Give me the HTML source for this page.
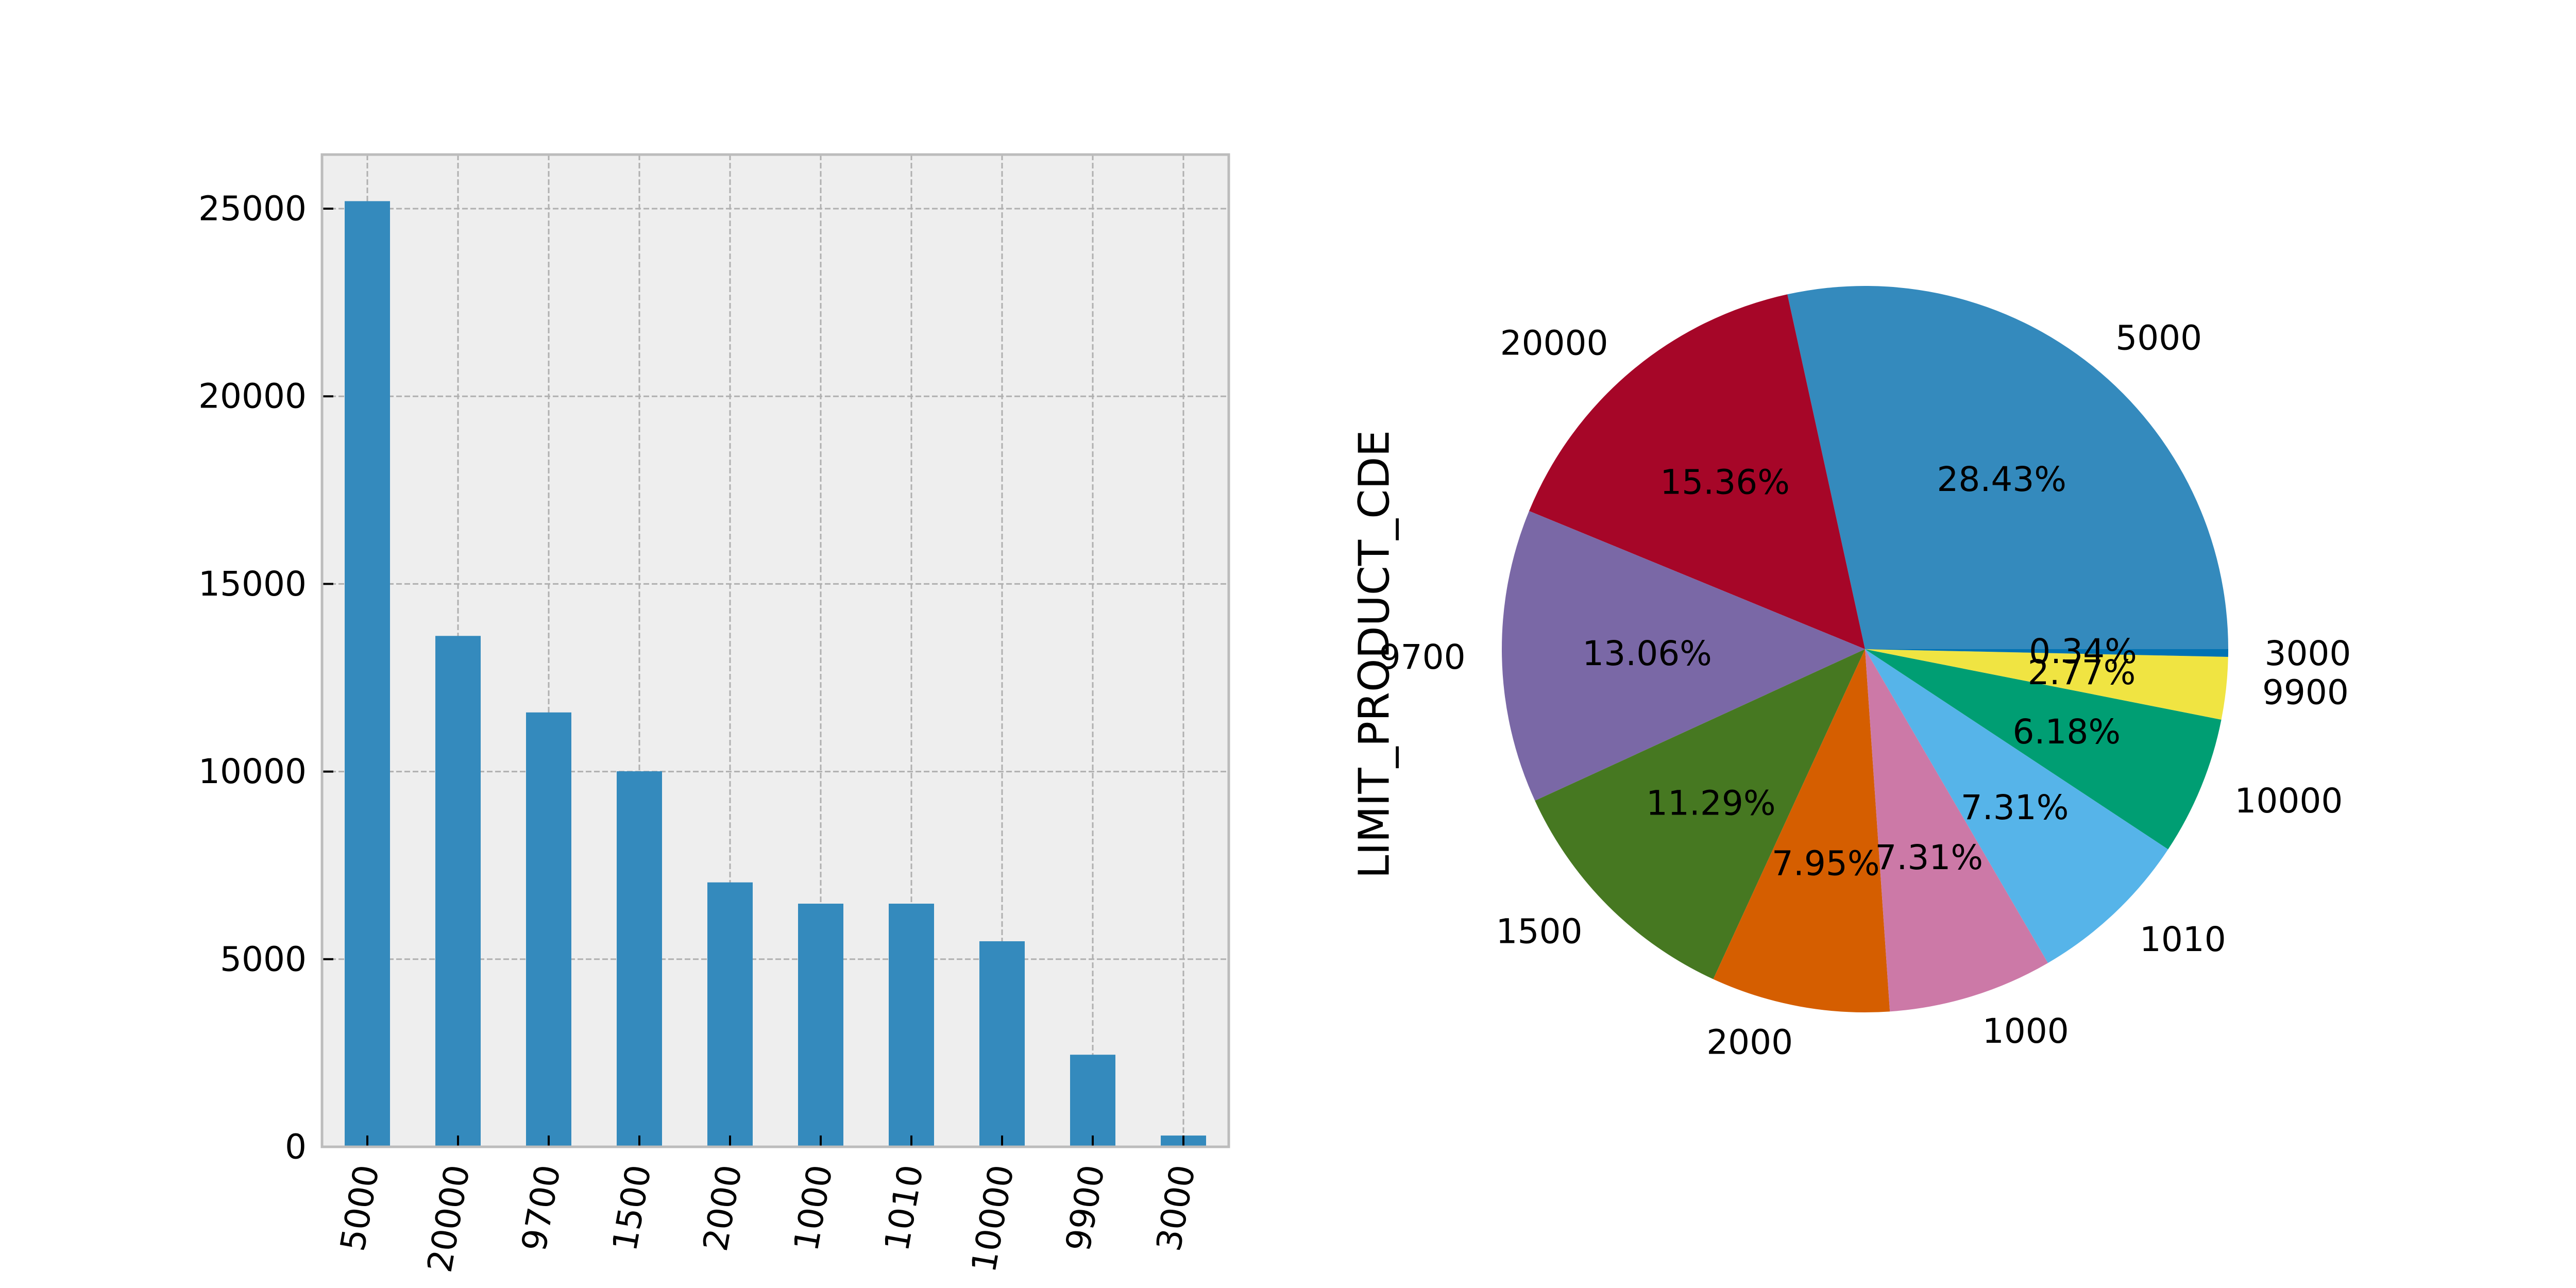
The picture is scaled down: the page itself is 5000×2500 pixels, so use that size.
<!DOCTYPE html>
<html><head><meta charset="utf-8"><style>
html,body{margin:0;padding:0;background:#fff;}
svg{display:block;font-family:"DejaVu Sans","Liberation Sans",sans-serif;}
</style></head><body>
<svg id="chart" width="5000" height="2500" viewBox="0 0 5000 2500">
<g id="bar"></g>
<g id="pie"></g>
</svg>
<script>
const categories = ["5000","20000","9700","1500","2000","1000","1010","10000","9900","3000"];
const counts = [25200,13615,11576,10007,7047,6480,6480,5478,2455,301];
const yTicks = [0,5000,10000,15000,20000,25000];
const pctLabels = ["28.43%","15.36%","13.06%","11.29%","7.95%","7.31%","7.31%","6.18%","2.77%","0.34%"];
const colors = ["#348ABD","#A60628","#7A68A6","#467821","#D55E00","#CC79A7","#56B4E9","#009E73","#F0E442","#0072B2"];

const NS="http://www.w3.org/2000/svg";
function mk(parent,tag,attrs){const e=document.createElementNS(NS,tag);for(const k in attrs)e.setAttribute(k,attrs[k]);parent.appendChild(e);return e;}

// Bar chart
const L=625,R=2385,T=300,B=2226;
const pxPer=(B-405)/25000;
const y=v=>B-v*pxPer;
const step=(R-L)/categories.length;
const x=i=>L+(i+0.5)*step;
const bg=document.getElementById('bar');
let r=mk(bg,'rect',{x:L,y:T,width:R-L,height:B-T,fill:'#eeeeee'});


yTicks.forEach(t=>{
  let g=mk(bg,'line',{x1:L,x2:R,y1:y(t),y2:y(t),stroke:'#b0b0b0','stroke-width':3,'stroke-dasharray':'11,5'});
  
  
});
categories.forEach((c,i)=>{
  let g=mk(bg,'line',{x1:x(i),x2:x(i),y1:T,y2:B,stroke:'#b0b0b0','stroke-width':3,'stroke-dasharray':'11,5'});
  
  
});
categories.forEach((c,i)=>{
  let b=mk(bg,'rect',{x:x(i)-step*0.25,y:y(counts[i]),width:step*0.5,height:B-y(counts[i]),fill:'#348ABD'});
  
  
});
categories.forEach((c,i)=>{
  let tk=mk(bg,'line',{x1:x(i),x2:x(i),y1:B,y2:B-22,stroke:'#000','stroke-width':4});
  
  
  let t=mk(bg,'text',{x:0,y:0,'font-size':66,'text-anchor':'end','dominant-baseline':'central',transform:`translate(${x(i)},2262) rotate(-80)`});
  t.textContent=c;
  
  
});
yTicks.forEach(v=>{
  let tk=mk(bg,'line',{x1:L,x2:L+22,y1:y(v),y2:y(v),stroke:'#000','stroke-width':4});
  
  
  let t=mk(bg,'text',{x:L-30,y:y(v),'font-size':66,'text-anchor':'end','dominant-baseline':'central'});
  t.textContent=v;
  
  
});
let sp=mk(bg,'rect',{x:L,y:T,width:R-L,height:B-T,fill:'none',stroke:'#bcbcbc','stroke-width':5});



// Pie chart
const pg=document.getElementById('pie');
const cx=3620,cy=1260,rad=705;
const total=counts.reduce((a,b)=>a+b,0);
let a0=0;
categories.forEach((c,i)=>{
  const frac=counts[i]/total;
  const a1=a0+frac*2*Math.PI;
  const p=(a)=>[cx+rad*Math.cos(a),cy-rad*Math.sin(a)];
  const [x0,y0]=p(a0),[x1,y1]=p(a1);
  const large=(a1-a0)>Math.PI?1:0;
  let s=mk(pg,'path',{d:`M${cx},${cy} L${x0},${y0} A${rad},${rad} 0 ${large} 0 ${x1},${y1} Z`,fill:colors[i]});
  
  
  const am=(a0+a1)/2;
  let lb=mk(pg,'text',{x:cx+1.1*rad*Math.cos(am),y:cy-1.1*rad*Math.sin(am),'font-size':66,'dominant-baseline':'central','text-anchor':Math.cos(am)>=0?'start':'end'});
  lb.textContent=c;
  
  
  let pc=mk(pg,'text',{x:cx+0.6*rad*Math.cos(am),y:cy-0.6*rad*Math.sin(am),'font-size':66,'dominant-baseline':'central','text-anchor':'middle'});
  pc.textContent=pctLabels[i];
  
  
  a0=a1;
});
let yl=mk(pg,'text',{x:0,y:0,'font-size':82,'text-anchor':'middle','dominant-baseline':'central',transform:'translate(2668,1270) rotate(-90)'});
yl.textContent='LIMIT_PRODUCT_CDE';


</script>
</body></html>
